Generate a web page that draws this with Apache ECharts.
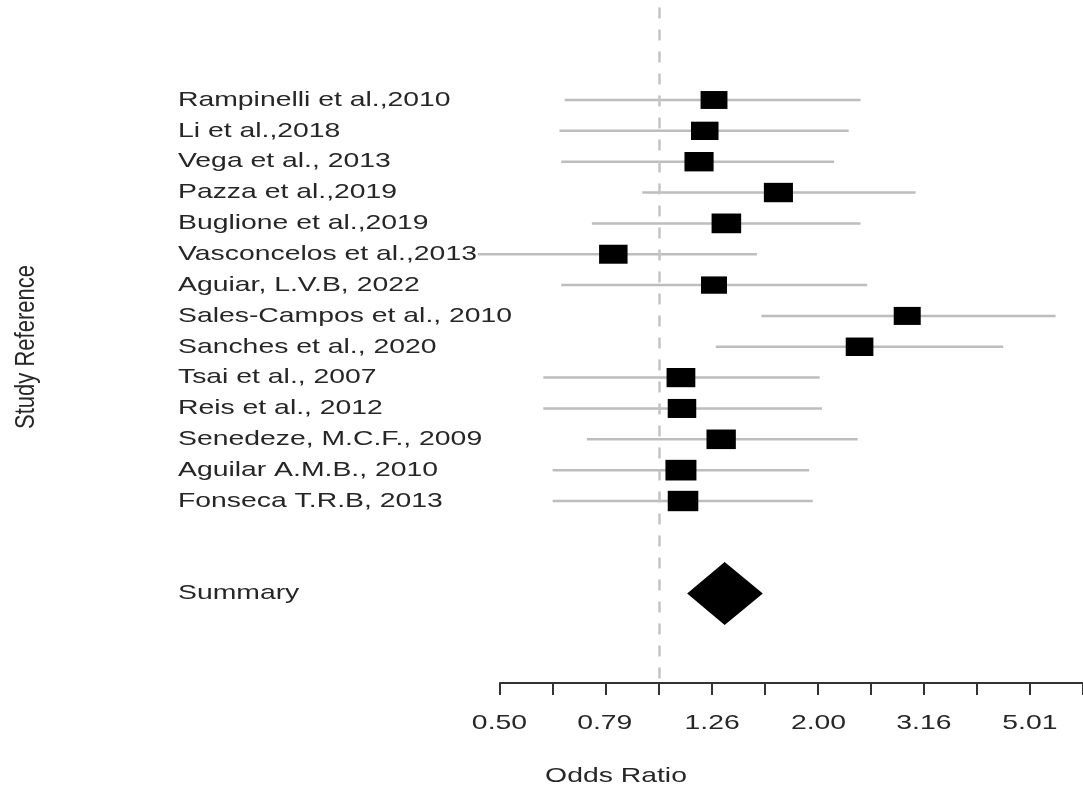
<!DOCTYPE html>
<html>
<head>
<meta charset="utf-8">
<script src="https://cdn.jsdelivr.net/npm/echarts@6/dist/echarts.min.js"></script>
<style>html,body{margin:0;padding:0;background:#fff}#c{width:1083px;height:789px}</style>
</head>
<body>
<div id="c"></div>
<script>
// ---- data ----
const studies = [
  'Rampinelli et al.,2010', 'Li et al.,2018', 'Vega et al., 2013', 'Pazza et al.,2019',
  'Buglione et al.,2019', 'Vasconcelos et al.,2013', 'Aguiar, L.V.B, 2022',
  'Sales-Campos et al., 2010', 'Sanches et al., 2020', 'Tsai et al., 2007',
  'Reis et al., 2012', 'Senedeze, M.C.F., 2009', 'Aguilar A.M.B., 2010', 'Fonseca T.R.B, 2013'
];
const oddsRatio = [1.27, 1.22, 1.19, 1.68, 1.34, 0.82, 1.27, 2.94, 2.39, 1.10, 1.105, 1.31, 1.10, 1.11];
const lowerCI   = [0.664, 0.649, 0.654, 0.930, 0.747, 0.455, 0.654, 1.56, 1.28, 0.605, 0.605, 0.731, 0.630, 0.630];
const upperCI   = [2.40, 2.28, 2.14, 3.05, 2.40, 1.53, 2.47, 5.60, 4.46, 2.01, 2.03, 2.37, 1.92, 1.95];
const summaryLabel = 'Summary';
const summaryOR = 1.33, summaryLower = 1.13, summaryUpper = 1.57;
const tickLabels = ['0.50', '0.79', '1.26', '2.00', '3.16', '5.01'];
const xTitle = 'Odds Ratio';
const yTitle = 'Study Reference';

// ---- layout/style ----
const SX = 1.35;               // horizontal stretch of the reference text
const FONT = '21px "Liberation Sans", Arial, sans-serif';
const TEXT = '#262626';
const LABEL_X = 178;
const Y_MIN = -2, Y_MAX = 19.9;
const SUMMARY_ROW = studies.length + 3;

const lg = v => Math.log10(v);
const studyData = studies.map((s, i) => [lg(lowerCI[i]), lg(upperCI[i]), lg(oddsRatio[i]), i + 1, s]);
const summaryData = [[lg(summaryLower), lg(summaryUpper), lg(summaryOR), SUMMARY_ROW, summaryLabel]];
const tickData = tickLabels.map(t => [Math.log10(parseFloat(t))]);

function labelEl(text, y) {
  return { type: 'text', x: LABEL_X, y: y, scaleX: SX,
    style: { text: text, font: FONT, fill: TEXT, align: 'left', verticalAlign: 'middle' } };
}

function renderStudy(params, api) {
  const y = api.value(3);
  const lo = api.coord([api.value(0), y]);
  const hi = api.coord([api.value(1), y]);
  const mid = api.coord([api.value(2), y]);
  const dlog = api.value(1) - api.value(0);
  const h = 10 / dlog;
  const w = h * 1.5;
  return { type: 'group', children: [
    { type: 'line', shape: { x1: lo[0], y1: lo[1], x2: hi[0], y2: hi[1] },
      style: { stroke: '#bdbdbd', lineWidth: 2.5 } },
    { type: 'rect', shape: { x: mid[0] - w / 2, y: mid[1] - h / 2, width: w, height: h },
      style: { fill: '#000' } },
    labelEl(studies[params.dataIndex], mid[1])
  ]};
}

function renderSummary(params, api) {
  const y = api.value(3);
  const lo = api.coord([api.value(0), y]);
  const hi = api.coord([api.value(1), y]);
  const mid = api.coord([api.value(2), y]);
  const hh = 31.5;
  return { type: 'group', children: [
    { type: 'polygon', shape: { points: [[lo[0], lo[1]], [mid[0], mid[1] - hh], [hi[0], hi[1]], [mid[0], mid[1] + hh]] },
      style: { fill: '#000' } },
    labelEl(summaryLabel, mid[1])
  ]};
}

function renderTick(params, api) {
  const p = api.coord([api.value(0), Y_MAX]);
  return { type: 'text', x: p[0], y: p[1] + 40, scaleX: SX,
    style: { text: tickLabels[params.dataIndex], font: FONT, fill: TEXT, align: 'center', verticalAlign: 'middle' } };
}

const chart = echarts.init(document.getElementById('c'), null, { renderer: 'canvas' });
chart.setOption({
  backgroundColor: '#fff',
  animation: false,
  grid: { left: 500, right: 0, top: 7.45, bottom: 106, containLabel: false },
  xAxis: {
    type: 'value', min: -0.3, max: 0.8, interval: 0.1, position: 'bottom',
    axisLine: { show: true, onZero: false, lineStyle: { color: '#333', width: 2 } },
    axisTick: { show: true, length: 12, inside: false, lineStyle: { color: '#333', width: 2 } },
    axisLabel: { show: false },
    splitLine: { show: false }
  },
  yAxis: {
    type: 'value', inverse: true, min: Y_MIN, max: Y_MAX,
    axisLine: { show: false }, axisTick: { show: false }, axisLabel: { show: false }, splitLine: { show: false }
  },
  graphic: [
    { type: 'text', x: 616, y: 776, scaleX: SX,
      style: { text: xTitle, font: FONT, fill: TEXT, align: 'center', verticalAlign: 'middle' } },
    { type: 'text', x: 27, y: 347, rotation: Math.PI / 2, scaleY: SX * 0.9,
      style: { text: yTitle, font: '22px "Liberation Sans", Arial, sans-serif', fill: TEXT, align: 'center', verticalAlign: 'middle' } }
  ],
  series: [
    {
      type: 'custom', name: 'ref', data: [], renderItem: () => null,
      markLine: { silent: true, symbol: 'none', label: { show: false },
        lineStyle: { color: '#c4c4c4', width: 2.5, type: [11, 11] },
        data: [{ xAxis: 0 }] }
    },
    { type: 'custom', name: 'studies', data: studyData, renderItem: renderStudy, clip: false,
      encode: { x: [0, 1, 2], y: 3 } },
    { type: 'custom', name: 'summary', data: summaryData, renderItem: renderSummary, clip: false,
      encode: { x: [0, 1, 2], y: 3 } },
    { type: 'custom', name: 'ticks', data: tickData, renderItem: renderTick, clip: false,
      encode: { x: 0 } }
  ]
});
</script>
</body>
</html>
